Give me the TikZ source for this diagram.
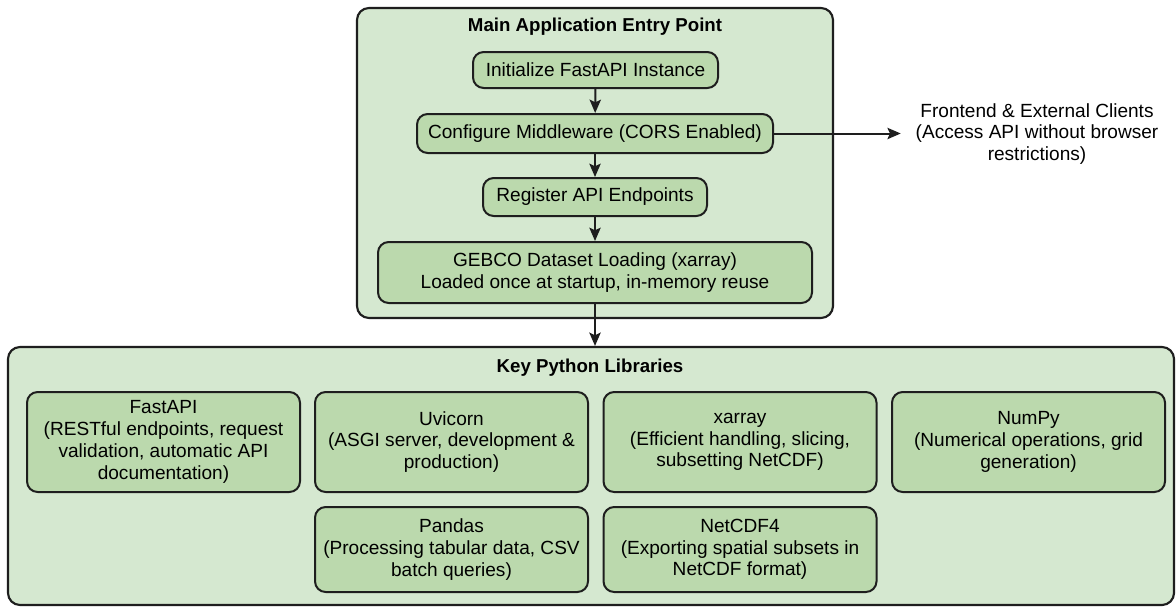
\documentclass[tikz,border=0pt]{standalone}
\usepackage{fontspec}
\setmainfont{Liberation Sans}
\usetikzlibrary{arrows.meta}
\definecolor{contfill}{HTML}{D5E8D0}
\definecolor{boxfill}{HTML}{BBD9AD}
\definecolor{edge}{HTML}{1E1E1E}
\begin{document}
\begin{tikzpicture}[x=0.75pt,y=-0.75pt,
  container/.style={draw=edge,fill=contfill,line width=1.6pt,rounded corners=9pt,inner sep=0pt},
  stepbox/.style={draw=edge,fill=boxfill,line width=1.5pt,rounded corners=8pt,align=center,inner sep=0pt,
    font=\fontsize{14.3}{16.3}\selectfont},
  title/.style={font=\fontsize{14}{16}\selectfont\bfseries},
  conn/.style={draw=edge,line width=1.5pt,-{Stealth[length=10pt,width=8.5pt,inset=2pt]}}]
\useasboundingbox (0,0) rectangle (1176,607);
\fill[white] (0,0) rectangle (1176,607);
% containers
\node[container,minimum width=476*0.75pt,minimum height=310*0.75pt] (main) at (595,163) {};
\node[container,minimum width=1166*0.75pt,minimum height=258*0.75pt] (libs) at (591,476) {};
\node[title] (maint) at (595,27) {Main Application Entry Point};
\node[title] (libst) at (590,368) {Key Python Libraries};
% main flow
\node[stepbox,minimum width=245*0.75pt,minimum height=36*0.75pt] (init) at (595.5,70) {Initialize FastAPI Instance};
\node[stepbox,minimum width=356*0.75pt,minimum height=39*0.75pt] (conf) at (595,133.5) {Configure Middleware (CORS Enabled)};
\node[stepbox,minimum width=224*0.75pt,minimum height=38*0.75pt] (reg) at (595,197) {Register API Endpoints};
\node[stepbox,minimum width=434*0.75pt,minimum height=61*0.75pt] (gebco) at (595,272.5) {GEBCO Dataset Loading (xarray)\\Loaded once at startup, in-memory reuse};
% frontend
\node[align=center,inner xsep=11pt,inner ysep=0pt,font=\fontsize{14.3}{16}\selectfont] (fe) at (1037,134) {Frontend \& External Clients\\(Access API without browser\\restrictions)};
% libraries
\tikzset{lib/.style={stepbox,minimum width=273*0.75pt}}
\node[lib,minimum height=100*0.75pt] (fastapi) at (163.5,442) {FastAPI\\(RESTful endpoints, request\\validation, automatic API\\documentation)};
\node[lib,minimum height=100*0.75pt] (uvicorn) at (451.5,442) {Uvicorn\\(ASGI server, development \&\\production)};
\node[lib,minimum height=100*0.75pt] (xarray) at (740,442) {xarray\\(Efficient handling, slicing,\\subsetting NetCDF)};
\node[lib,minimum height=100*0.75pt] (numpy) at (1028.5,442) {NumPy\\(Numerical operations, grid\\generation)};
\node[lib,minimum height=85*0.75pt] (pandas) at (451.5,549.5) {Pandas\\(Processing tabular data, CSV\\batch queries)};
\node[lib,minimum height=85*0.75pt] (netcdf) at (740,549.5) {NetCDF4\\(Exporting spatial subsets in\\NetCDF format)};
% connectors
\draw[conn] (init) -- (conf);
\draw[conn] (conf) -- (reg);
\draw[conn] (reg) -- (gebco);
\draw[conn] (gebco.south) -- (gebco.south |- libs.north);
\draw[conn] (conf.east) -- (fe.west |- conf.east);
\end{tikzpicture}
\end{document}
